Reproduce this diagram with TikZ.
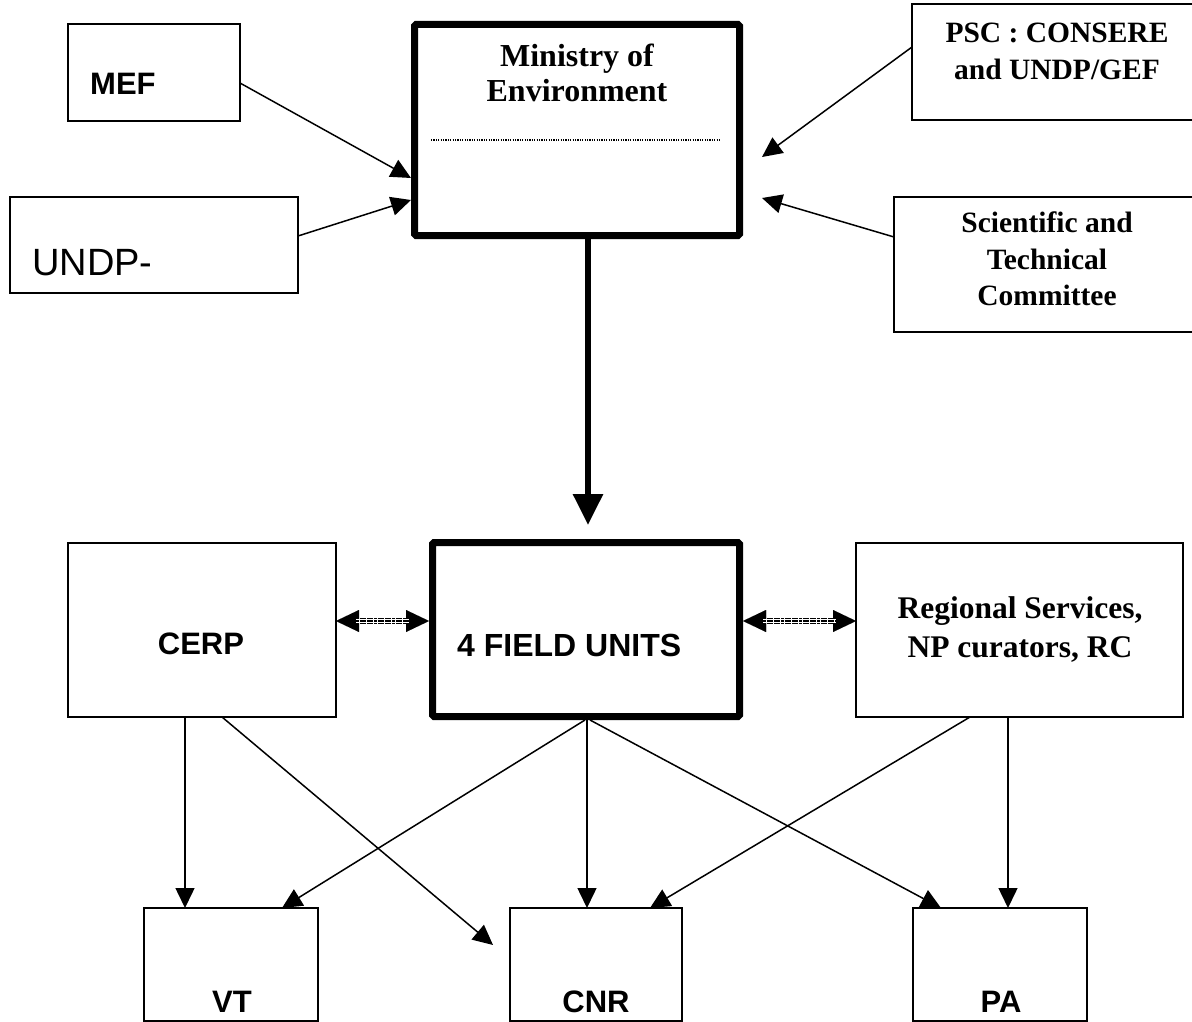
\documentclass[tikz,border=0pt]{standalone}
\usepackage{fontspec}
\setmainfont{Liberation Serif}
\setsansfont{Liberation Sans}
\usetikzlibrary{arrows.meta}
\begin{document}
\begin{tikzpicture}[x=1pt,y=-1pt,
  thinbox/.style={draw, line width=1.6pt, rectangle, inner sep=0pt, outer sep=0pt, anchor=north west},
  thickbox/.style={draw, line width=7pt, rectangle, rounded corners=1.5pt, inner sep=0pt, anchor=north west},
  lbl/.style={inner sep=0pt, anchor=base},
  sansb/.style={font=\sffamily\bfseries\fontsize{31pt}{31pt}\selectfont},
  serb/.style={font=\rmfamily\bfseries\fontsize{#1}{#1}\selectfont},
  arr/.style={line width=1.5pt, -{Triangle[length=20pt,width=19pt]}},
  bigarr/.style={line width=6pt, -{Triangle[length=31pt,width=29pt]}},
  dblarr/.style={line width=0.01pt, {Triangle[length=23pt,width=22pt]}-{Triangle[length=23pt,width=22pt]},
    postaction={draw,-,shorten <=20pt,shorten >=20pt,line width=6pt,dash pattern=on 3pt off 0.6pt},
    postaction={draw,-,white,shorten <=20pt,shorten >=20pt,line width=3.8pt},
    postaction={draw,-,shorten <=20pt,shorten >=20pt,line width=1.6pt,dash pattern=on 3pt off 0.6pt}}
]
\useasboundingbox (0,0) rectangle (1192,1022);
\fill[white] (0,0) rectangle (1192,1022);
\clip (0,0) rectangle (1192,1022);

% boxes
\node[thinbox, minimum width=172pt, minimum height=97pt] (mef) at (68,24) {};
\node[thinbox, minimum width=288pt, minimum height=96pt] (undp) at (10,197) {};
\node[thickbox, minimum width=325pt, minimum height=211pt] (min) at (411,21) {};
\node[thinbox, minimum width=300pt, minimum height=116pt] (psc) at (912,4) {};
\node[thinbox, minimum width=310pt, minimum height=135pt] (sci) at (894,197) {};
\node[thinbox, minimum width=268pt, minimum height=174pt] (cerp) at (68,543) {};
\node[thickbox, minimum width=307pt, minimum height=174pt] (fu) at (429,539) {};
\node[thinbox, minimum width=327pt, minimum height=174pt] (reg) at (856,543) {};
\node[thinbox, minimum width=174pt, minimum height=113pt] (vt) at (144,908) {};
\node[thinbox, minimum width=172pt, minimum height=113pt] (cnr) at (510,908) {};
\node[thinbox, minimum width=174pt, minimum height=113pt] (pa) at (913,908) {};

% texts
\node[lbl, anchor=base west, sansb] (meft) at (90,95) {MEF};
\node[lbl, anchor=base west, font=\sffamily\fontsize{38pt}{38pt}\selectfont] (undpt) at (32,275) {UNDP-};
\node[lbl, serb=32pt] (mint1) at (577,67) {Ministry of};
\node[lbl, serb=32pt] (mint2) at (577,102) {Environment};
\draw[line width=1.3pt, dash pattern=on 1.2pt off 1.2pt] (431,140) -- (720,140);
\node[lbl, serb=29.5pt] (psct1) at (1057,43) {PSC : CONSERE};
\node[lbl, serb=29.5pt] (psct2) at (1057,80) {and UNDP/GEF};
\node[lbl, serb=29.5pt] (scit1) at (1047,233) {Scientific and};
\node[lbl, serb=29.5pt] (scit2) at (1047,269) {Technical};
\node[lbl, serb=29.5pt] (scit3) at (1047,305) {Committee};
\node[lbl, sansb] (cerpt) at (201,654) {CERP};
\node[lbl, anchor=base west, font=\sffamily\bfseries\fontsize{32pt}{32pt}\selectfont] (fut) at (457,656) {4 FIELD UNITS};
\node[lbl, serb=31.5pt] (regt1) at (1020,618) {Regional Services,};
\node[lbl, serb=31.5pt] (regt2) at (1020,657) {NP curators, RC};
\node[lbl, sansb] (vtt) at (232,1012) {VT};
\node[lbl, sansb] (cnrt) at (596,1012) {CNR};
\node[lbl, sansb] (pat) at (1001,1012) {PA};

% free ends
\coordinate (pscend) at (762,157);
\coordinate (sciend) at (762,198);
\coordinate (cnrfree) at (493,945);

% connectors top
\draw[arr] (mef.east |- 0,83) -- (min.west |- 0,178);
\draw[arr] (undp.east |- 0,236) -- (min.west |- 0,200);
\draw[arr] (psc.west |- 0,47) -- (pscend);
\draw[arr] (sci.west |- 0,237) -- (sciend);
\draw[bigarr, shorten >=14pt] (min.south -| 588,0) -- (fu.north -| 588,0);

% double arrows
\draw[dblarr] (cerp.east |- 0,621) -- (fu.west |- 0,621);
\draw[dblarr] (fu.east |- 0,621) -- (reg.west |- 0,621);

% bottom connectors
\draw[arr] (cerp.south -| 185,0) -- (vt.north -| 185,0);
\draw[arr] (cerp.south -| 222,0) -- (cnrfree);
\draw[arr] (fu.south -| 585,0) -- (vt.north -| 282,0);
\draw[arr] (fu.south -| 587,0) -- (cnr.north -| 587,0);
\draw[arr] (fu.south -| 590,0) -- (pa.north -| 941,0);
\draw[arr] (reg.south -| 970,0) -- (cnr.north -| 650,0);
\draw[arr] (reg.south -| 1008,0) -- (pa.north -| 1008,0);
\end{tikzpicture}
\end{document}
